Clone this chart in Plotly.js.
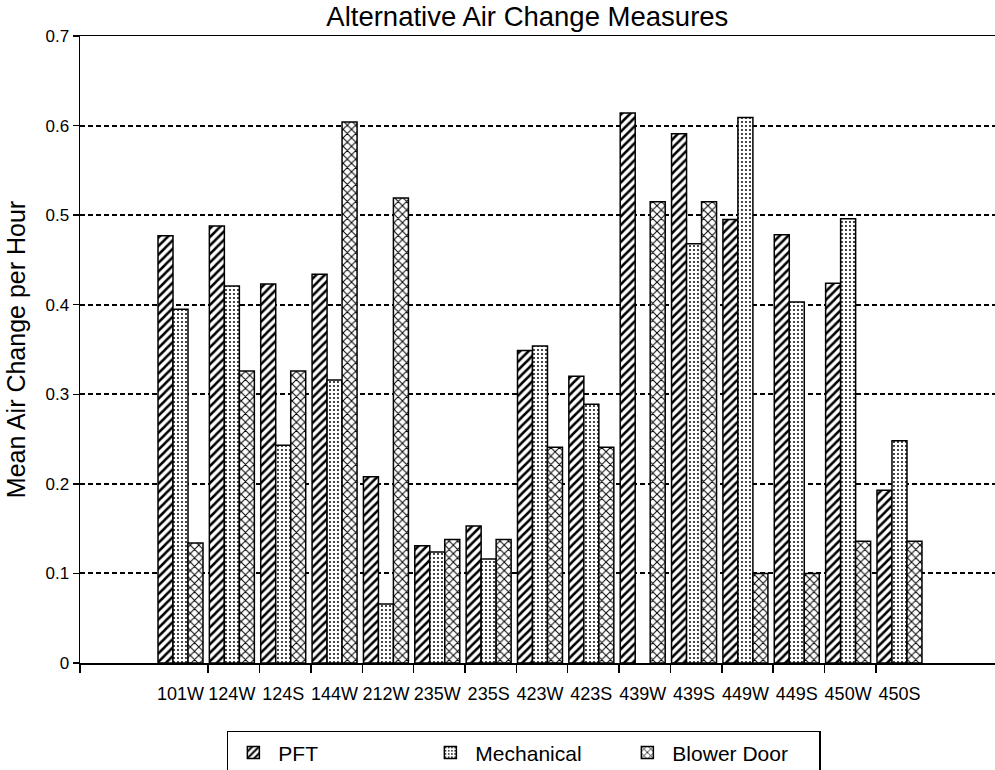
<!DOCTYPE html>
<html>
<head>
<meta charset="utf-8">
<script src="https://cdn.plot.ly/plotly-3.0.1.min.js"></script>
<style>html,body{margin:0;padding:0;background:#fff;}#chart{width:995px;height:770px;}</style>
</head>
<body>
<div id="chart"></div>
<script>
// ---- data ----
const sites = ["101W","124W","124S","144W","212W","235W","235S","423W","423S","439W","439S","449W","449S","450W","450S"];
const pft        = [0.477, 0.488, 0.423, 0.434, 0.208, 0.131, 0.153, 0.349, 0.320, 0.614, 0.591, 0.495, 0.478, 0.424, 0.193];
const mechanical = [0.395, 0.421, 0.243, 0.316, 0.066, 0.124, 0.116, 0.354, 0.289, null,  0.468, 0.609, 0.403, 0.496, 0.248];
const blowerDoor = [0.134, 0.326, 0.326, 0.604, 0.519, 0.138, 0.138, 0.241, 0.241, 0.515, 0.515, 0.100, 0.100, 0.136, 0.136];
const seriesNames = ["PFT", "Mechanical", "Blower Door"];
const yTicks = [0, 0.1, 0.2, 0.3, 0.4, 0.5, 0.6, 0.7];

const FONT = "'Liberation Sans', Arial, Helvetica, sans-serif";
const xRange = [-1.957, 15.86];

function barTrace(name, vals, shape, size, solidity) {
  return {
    type: "bar", name: name, x: sites, y: vals,
    marker: {
      color: "#ffffff",
      line: {color: "#000000", width: 1.5},
      pattern: {shape: shape, fgcolor: "#000000", bgcolor: "#ffffff", size: size, solidity: solidity}
    },
    hoverinfo: "x+y+name"
  };
}

const traces = [
  barTrace(seriesNames[0], pft, "/", 6, 0.42),
  barTrace(seriesNames[1], mechanical, ".", 4, 0.18),
  barTrace(seriesNames[2], blowerDoor, "x", 6, 0.3),
  // helper trace so the boundary-tick axis is drawn
  {type: "scatter", x: [], y: [], xaxis: "x2", yaxis: "y", showlegend: false, hoverinfo: "skip"}
];

// tick marks sit on the boundaries between sites
const boundaryTicks = [xRange[0]].concat(sites.slice(0, -1).map((s, i) => i + 0.54));

const layout = {
  width: 995, height: 770,
  paper_bgcolor: "#ffffff", plot_bgcolor: "#ffffff",
  margin: {l: 80, r: 0, t: 36, b: 107, autoexpand: false},
  font: {family: FONT, color: "#000000", size: 18},
  title: {text: "Alternative Air Change Measures", x: 0.53, xref: "container", xanchor: "center",
          y: 0.979, yref: "container", yanchor: "middle",
          font: {family: FONT, size: 27.5, color: "#000000"}},
  barmode: "group", bargap: 0.124, bargroupgap: 0,
  xaxis: {
    type: "category", range: xRange, showgrid: false, zeroline: false, automargin: false,
    showline: true, linecolor: "#000000", linewidth: 1.5, mirror: true,
    ticks: "outside", ticklen: 14, tickcolor: "rgba(0,0,0,0)", tickangle: 0,
    tickfont: {family: FONT, size: 18, color: "#000000"}
  },
  xaxis2: {
    overlaying: "x", anchor: "y", side: "bottom", range: xRange, automargin: false,
    tickmode: "array", tickvals: boundaryTicks, ticktext: boundaryTicks.map(() => ""),
    ticks: "outside", ticklen: 9, tickwidth: 1.5, tickcolor: "#000000",
    showgrid: false, zeroline: false, showline: false, showticklabels: false
  },
  yaxis: {
    range: [0, 0.7], tickmode: "array", tickvals: yTicks, ticktext: yTicks.map(v => String(v)),
    automargin: false,
    showline: true, linecolor: "#000000", linewidth: 1.5,
    ticks: "outside", ticklen: 6, tickwidth: 1.5, tickcolor: "#000000",
    showgrid: true, gridcolor: "#000000", gridwidth: 2, griddash: "5px,3px",
    zeroline: false,
    tickfont: {family: FONT, size: 17, color: "#000000"},
    title: {text: "Mean Air Change per Hour", font: {family: FONT, size: 25, color: "#000000"}, standoff: 12}
  },
  legend: {
    orientation: "h", xref: "container", x: 0.228, xanchor: "left",
    yref: "container", y: 0.051, yanchor: "top",
    bordercolor: "#000000", borderwidth: 1.5, bgcolor: "#ffffff",
    font: {family: FONT, size: 21, color: "#000000"},
    entrywidth: 142, itemwidth: 40, traceorder: "normal"
  },
  showlegend: true
};

Plotly.newPlot("chart", traces, layout, {displayModeBar: false, staticPlot: true});
</script>
</body>
</html>
